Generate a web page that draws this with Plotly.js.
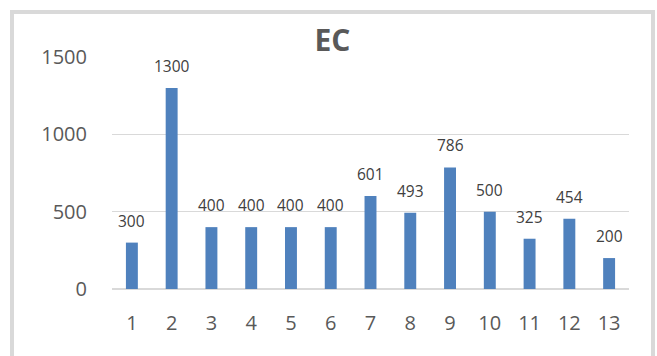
<!DOCTYPE html>
<html>
<head>
<meta charset="utf-8">
<script src="https://cdn.plot.ly/plotly-3.0.1.min.js"></script>
<style>
  html, body { margin: 0; padding: 0; background: #ffffff; }
  #chart { width: 657px; height: 356px; }
</style>
</head>
<body>
<div id="chart"></div>
<script>
// EC values per sample number
const categories = ['1', '2', '3', '4', '5', '6', '7', '8', '9', '10', '11', '12', '13'];
const ecValues = [300, 1300, 400, 400, 400, 400, 601, 493, 786, 500, 325, 454, 200];
const yTickValues = [0, 500, 1000, 1500];

const FONT = '"Open Sans", "Noto Sans", sans-serif';

const bars = {
  type: 'bar',
  x: categories,
  y: ecValues,
  marker: { color: '#4F81BD' },
  hoverinfo: 'x+y'
};

// value labels sitting above each bar (x given as category index)
const valueLabels = categories.map((c, i) => ({
  x: i,
  y: ecValues[i],
  xref: 'x',
  yref: 'y',
  text: String(ecValues[i]),
  showarrow: false,
  yanchor: 'bottom',
  yshift: 9,
  font: { family: FONT, size: 15.5, color: '#404040' }
}));

const layout = {
  width: 657,
  height: 356,
  margin: { l: 112, r: 28, t: 57, b: 66.5 },
  paper_bgcolor: '#ffffff',
  plot_bgcolor: '#ffffff',
  showlegend: false,
  bargap: 0.7,
  title: {
    text: '<b>EC</b>',
    font: { family: FONT, size: 30, color: '#595959' },
    xref: 'container',
    yref: 'container',
    x: 0.506,
    y: 1 - 40 / 356,
    xanchor: 'center',
    yanchor: 'middle'
  },
  xaxis: {
    type: 'category',
    range: [-0.5, categories.length - 0.5],
    showgrid: false,
    zeroline: false,
    showline: false,
    ticks: 'outside',
    ticklen: 16,
    tickcolor: 'rgba(0,0,0,0)',
    tickfont: { family: FONT, size: 20, color: '#595959' }
  },
  yaxis: {
    range: [0, 1500],
    tickvals: yTickValues,
    ticktext: yTickValues.map(String),
    showgrid: true,
    gridcolor: '#d9d9d9',
    gridwidth: 1.5,
    zeroline: true,
    zerolinecolor: '#d9d9d9',
    zerolinewidth: 2,
    showline: false,
    ticks: 'outside',
    ticklen: 20,
    tickcolor: 'rgba(0,0,0,0)',
    tickfont: { family: FONT, size: 20, color: '#595959' }
  },
  annotations: valueLabels,
  shapes: [
    // chart frame
    {
      type: 'rect',
      xref: 'paper', yref: 'paper',
      x0: -100 / 517, x1: 541 / 517,
      y0: -90 / 232.5, y1: 1 + 45 / 232.5,
      line: { color: '#d9d9d9', width: 4 },
      fillcolor: 'rgba(0,0,0,0)',
      layer: 'below'
    }
  ]
};

Plotly.newPlot('chart', [bars], layout, { displayModeBar: false, staticPlot: true });
</script>
</body>
</html>
